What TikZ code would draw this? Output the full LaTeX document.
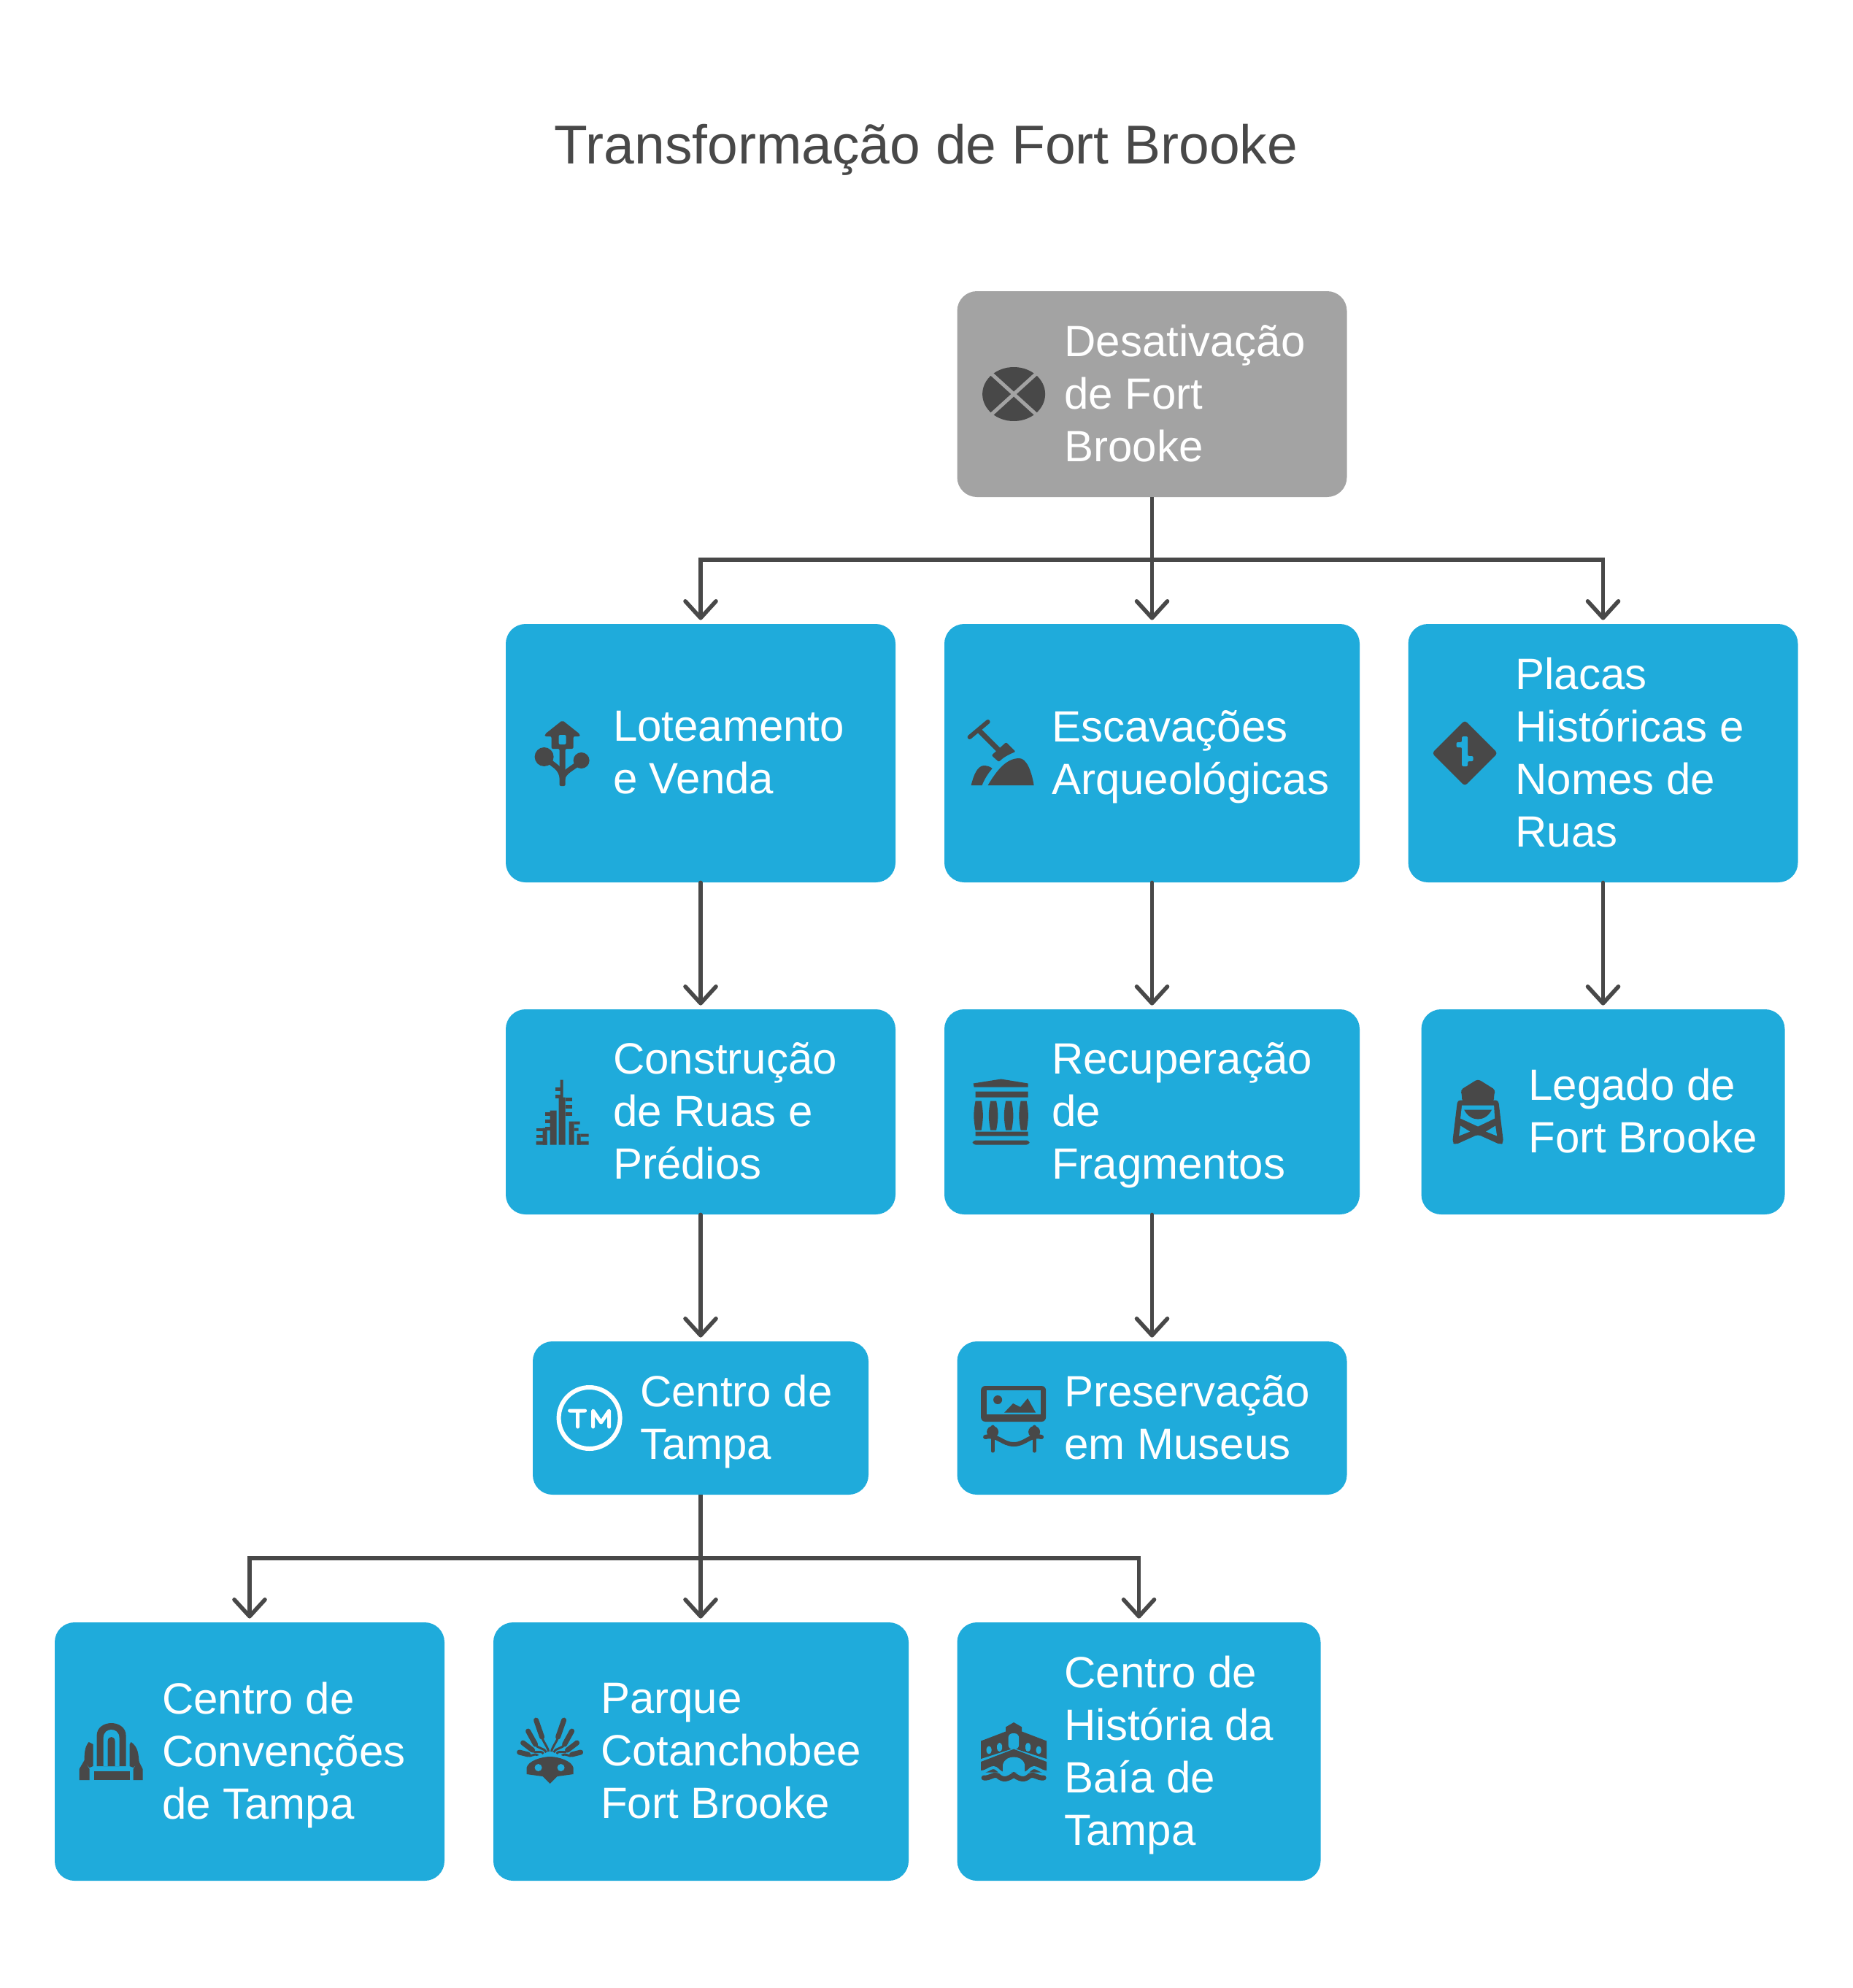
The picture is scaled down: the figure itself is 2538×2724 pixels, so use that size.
\documentclass[tikz,border=0pt]{standalone}
\usepackage{fontspec}
\setmainfont{Liberation Sans}
\usetikzlibrary{arrows.meta,positioning}
\definecolor{tblue}{HTML}{1FABDB}
\definecolor{tgrey}{HTML}{A3A3A3}
\definecolor{tdark}{HTML}{484848}
\newcommand{\lstrut}{\rule[-8.5pt]{0pt}{39.5pt}}

% icons, drawn round (0,0), one unit is one pixel of the picture
\newcommand{\icocross}{
    \fill[tdark] (0,0) ellipse [x radius=43,y radius=37];
    \draw[tgrey,line width=2.5pt] (-33,-30) -- (33,30) (-33,30) -- (33,-30);
}
\newcommand{\icolot}{
    \fill[tdark,rounded corners=1pt] (0,-45) -- (24,-26) -- (24,-23) -- (15,-23) -- (15,-6) -- (4,-6) -- (4,45) -- (-4,45) -- (-4,-6) -- (-15,-6) -- (-15,-23) -- (-24,-23) -- (-24,-26) -- cycle;
    \fill[tblue,rounded corners=1pt] (-5,-25) rectangle (5,-12);
    \fill[tdark] (-25,5) circle (13) (26,10) circle (11);
    \draw[tdark,line width=3.5pt] (-25,5) .. controls (-12,18) and (-2,18) .. (0,36);
    \draw[tdark,line width=3.5pt] (26,10) .. controls (14,22) and (2,24) .. (0,36);
}
\newcommand{\icodig}{
    \draw[tdark,line width=3pt,line cap=round] (-43,-22) -- (-18,-43);
    \draw[tdark,line width=3.5pt] (-31,-32) -- (-3,-4);
    \fill[tdark,rounded corners=1pt] (7,-15) -- (20,-2) .. controls (10,2) and (3,6) .. (-3,12) -- (-13,3) -- cycle;
    \fill[tdark] (-18,44) .. controls (-5,22) and (8,7) .. (25,7) .. controls (35,7) and (42,25) .. (45,44) -- cycle;
    \fill[tdark] (-41,44) .. controls (-37,28) and (-32,18) .. (-24,17) .. controls (-20,17) and (-15,18) .. (-12,21) .. controls (-18,28) and (-23,36) .. (-26,44) -- cycle;
}
\newcommand{\icosign}{
    \fill[tdark,rounded corners=2pt] (-45,0) -- (0,-45) -- (45,0) -- (0,45) -- cycle;
    \fill[tblue,rounded corners=1pt] (-4,-23) -- (4,-23) -- (4,4) -- (11.5,4) -- (11.5,11) -- (4,11) -- (4,18) -- (-4,18) -- (-4,-8) -- (-11.5,-8) -- (-11.5,-15) -- (-4,-15) -- cycle;
}
\newcommand{\icotown}{
    \fill[tdark] (-3,-44) rectangle (1,45) (-5,-20) rectangle (4,45) (-17,-2) rectangle (-8,45) (9,13) rectangle (16,45) (-36,40) rectangle (-21,45) (20,40) rectangle (36,45);
    \fill[tdark] (-27,22) rectangle (-21,45) (20,30) rectangle (25,45);
    \foreach \y in {-34,-24}
        \fill[tdark] (-10,\y) rectangle (-3,\y+5);
    \foreach \y in {-20,-10,0}
        \fill[tdark] (4,\y) rectangle (13,\y+5);
    \foreach \y in {0,10,20}
        \fill[tdark] (-24,\y) rectangle (-17,\y+5);
    \foreach \y in {22,31}
        \fill[tdark] (-36,\y) rectangle (-27,\y+4);
    \fill[tdark] (16,13) rectangle (24,17) (16,22) rectangle (22,26) (25,30) rectangle (36,34);
}
\newcommand{\icopillar}{
    \fill[tdark] (-38,-39) -- (0,-45) -- (37,-39) -- (37,-34) -- (-37,-34) -- cycle;
    \fill[tdark] (-35,-28) rectangle (37,-20) (-35,27) rectangle (37,33);
    \fill[tdark,rounded corners=2pt] (-39,39) rectangle (39,45);
    \foreach \x in {-31,-10.5,10.5,31}
        \fill[tdark] (\x-4,-15) .. controls (\x-7,0) and (\x-7,10) .. (\x-4,25) -- (\x+4,25) .. controls (\x+7,10) and (\x+7,0) .. (\x+4,-15) -- cycle;
}
\newcommand{\icomark}{
    \draw[white,line width=3pt] (0,0) circle (42);
    \draw[white,line width=2.5pt,line cap=round,line join=round] (-27,-10) -- (-6,-10) (-16,-10) -- (-16,12) (5,12) -- (5,-10) -- (16,6) -- (27,-10) -- (27,12);
}
\newcommand{\icogallery}{
    \fill[tdark,rounded corners=3pt] (-45,-44) rectangle (44,5);
    \fill[tblue] (-37,-38) rectangle (37,-5.5);
    \fill[tdark] (-13,-7.5) -- (-1,-20) -- (9,-15) -- (19,-27) -- (30,-7.5) -- cycle;
    \fill[tdark] (-22,-25) circle (6);
    \draw[tdark,line width=2.5pt,line cap=round] (-29,12) -- (-29,45) (28,12) -- (28,45);
    \fill[tdark] (-29,19) circle (8) (28,19) circle (8);
    \draw[tdark,line width=3pt,line cap=round] (-39,26) .. controls (-22,22) and (-16,36) .. (0,36) .. controls (16,36) and (22,22) .. (38,26);
}
\newcommand{\icotower}{
    \fill[tdark,rounded corners=2pt] (0,-45) -- (24,-30) -- (22,-24) -- (22,-14) -- (-22,-14) -- (-22,-24) -- (-24,-30) -- cycle;
    \fill[tdark,rounded corners=2pt] (-28,-16) -- (28,-16) -- (35,42) -- (31,45) -- (0,31) -- (-31,45) -- (-35,42) -- cycle;
    \fill[tblue] (-22,-9) -- (22,-9) -- (23,9) -- (0,20) -- (-24,9) -- cycle;
    \fill[tdark] (-19,-3) -- (19,-3) .. controls (14,7) and (6,10) .. (0,10) .. controls (-6,10) and (-14,7) .. (-19,-3) -- cycle;
    \fill[tblue] (-24,19) -- (-11,27) -- (-26,33) -- cycle (24,19) -- (11,27) -- (26,33) -- cycle;
}
\newcommand{\icohall}{
    \fill[tdark] (-20,20) -- (-20,-22) .. controls (-20,-33) and (-10,-39) .. (0,-39) .. controls (10,-39) and (20,-33) .. (20,-22) -- (20,20) -- cycle;
    \fill[tblue] (-11,20) -- (-11,-18) .. controls (-11,-27) and (-5,-30) .. (0,-30) .. controls (5,-30) and (11,-27) .. (11,-18) -- (11,20) -- cycle;
    \fill[tdark] (-5,20) -- (-5,-14) .. controls (-5,-22) and (5,-22) .. (5,-14) -- (5,20) -- cycle;
    \fill[tdark] (-31,-13) .. controls (-37,-6) and (-37,4) .. (-37,14) -- (-30,22) -- (-25,20) -- (-25,-10) -- cycle;
    \fill[tdark] (27,-13) .. controls (37,-6) and (37,4) .. (38,14) -- (30,22) -- (25,20) -- (25,-10) -- cycle;
    \fill[tdark] (-44,39) -- (-44,24) -- (-37,12) -- (-30,24) -- (-30,39) -- cycle;
    \fill[tdark] (30,39) -- (30,24) -- (37,12) -- (43,24) -- (43,39) -- cycle;
    \fill[tdark] (-24,27) rectangle (25,39);
}
\newcommand{\icomask}{
    \foreach \side in {1,-1}
        \foreach \bx/\by/\mx/\my/\tx/\ty in {-2/0/-11/-20/-19/-43,-5/1/-20/-10/-30/-28,-9/3/-24/-2/-37/-12,-16/6/-30/4/-42/1}{
            \draw[tdark,line width=1.5pt] (\side*\bx,\by) .. controls (\side*\bx*1.4,\by-6) and (\side*\mx*0.9,\my+6) .. (\side*\mx,\my);
            \draw[tdark,line width=3.5pt,line cap=round] (\side*\mx,\my) -- (\side*\tx,\ty);
        }
    \draw[tblue,line width=2pt] (-28,14) .. controls (-14,2) and (14,2) .. (28,14);
    \fill[tdark] (-32,31) -- (-32,22) .. controls (-30,13) and (-12,7) .. (0,7) .. controls (12,7) and (30,13) .. (32,22) -- (32,31) -- (10,34) -- (0,44) -- (-10,34) -- cycle;
    \fill[tblue] (-16,22) circle (5) (15,22) circle (5);
}
\newcommand{\icobridge}{
    \fill[tdark] (0,-40) -- (11,-33.6) -- (11,-27.5) -- (45,-14.5) -- (45,10) -- (0,-4.5) -- (-45,10) -- (-45,-14.5) -- (-11,-27.5) -- (-11,-33.6) -- cycle;
    \fill[tblue,rounded corners=3pt] (-7.5,-3) -- (-7.5,-25) -- (7,-25) -- (7,-3) -- cycle;
    \fill[tblue,rounded corners=2pt] (-37.5,3.4) rectangle (-30.6,-7.5) (-23,0) rectangle (-16,-12) (30.6,3.4) rectangle (37.5,-7.5) (16,0) rectangle (23,-12);
    \fill[tdark] (-45,14) -- (0,-3.4) -- (45,14) -- (45,28.5) -- (-45,28.5) -- cycle;
    \fill[tblue] (-15,28.5) -- (-15,18) .. controls (-13,10) and (-6,7.5) .. (0,7.5) .. controls (6,7.5) and (13,10) .. (15,18) -- (15,28.5) -- cycle;
    \draw[tblue,line width=2pt] (-45,28) .. controls (-35,28) and (-30,17) .. (-22,25) .. controls (-15,33) and (-8,30) .. (0,23) .. controls (8,30) and (15,33) .. (22,25) .. controls (30,17) and (35,28) .. (45,28);
    \draw[tdark,line width=3.5pt,line cap=round] (-41,36) .. controls (-32,37) and (-28,30) .. (-22,33) .. controls (-15,40) and (-8,38) .. (0,32) .. controls (8,38) and (15,40) .. (22,33) .. controls (28,30) and (32,37) .. (41,36);
}

\begin{document}
\begin{tikzpicture}[x=0.5pt,y=-0.5pt]
    \tikzstyle{stepbox}=[fill=tblue,rounded corners=13.5pt,inner sep=0pt]
    \tikzstyle{greybox}=[fill=tgrey,rounded corners=13.5pt,inner sep=0pt]
    \tikzstyle{wbig}=[minimum width=267pt]
    \tikzstyle{wwide}=[minimum width=284.5pt]
    \tikzstyle{wmid}=[minimum width=249pt]
    \tikzstyle{wsmall}=[minimum width=230pt]
    \tikzstyle{word}=[anchor=west,align=left,inner sep=0pt,text=white,font=\fontsize{30}{36}\selectfont,
        execute at begin node=\lstrut,execute at end node=\lstrut]
    \tikzstyle{fwd}=[draw=tdark,line width=2.8pt,line cap=round,shorten >=2.5pt,
        -{Straight Barb[length=11.5pt,width=21pt,round]}]
    \tikzstyle{bus}=[draw=tdark,line width=2.8pt]

    \def\rowa{540}
    \def\rowb{1032}
    \def\rowc{1523.5}
    \def\rowd{1943}
    \def\rowe{2400}
    \def\txt{73.5pt}
    \def\tdrop{-3.5pt}
    \def\ico{39pt}

    \useasboundingbox (0,0) rectangle (2538,2724);

    \node[anchor=center,text=tdark,font=\fontsize{37.5}{45}\selectfont,inner sep=0pt] (title) at (1269,205) {Transformação de Fort Brooke};

    \node[greybox,wbig,minimum height=141pt] (des) at (1578.5,\rowa) {};
    \node[stepbox,wbig,minimum height=177pt] (lot) at (960,\rowb) {};
    \node[stepbox,wwide,minimum height=177pt] (esc) at (1578.5,\rowb) {};
    \node[stepbox,wbig,minimum height=177pt] (pla) at (2196.5,\rowb) {};
    \node[stepbox,wbig,minimum height=140.5pt] (con) at (960,\rowc) {};
    \node[stepbox,wwide,minimum height=140.5pt] (rec) at (1578.5,\rowc) {};
    \node[stepbox,wmid,minimum height=140.5pt] (leg) at (2196.5,\rowc) {};
    \node[stepbox,wsmall,minimum height=105pt] (cen) at (960,\rowd) {};
    \node[stepbox,wbig,minimum height=105pt] (pre) at (1578.5,\rowd) {};
    \node[stepbox,wbig,minimum height=177pt] (cnv) at (342,\rowe) {};
    \node[stepbox,wwide,minimum height=177pt] (par) at (960.5,\rowe) {};
    \node[stepbox,wmid,minimum height=177pt] (his) at (1560.5,\rowe) {};

    \node[word] (dest) at ([xshift=\txt,yshift=\tdrop]des.west) {Desativação\\de Fort\\Brooke};
    \node[word] (lott) at ([xshift=\txt,yshift=\tdrop]lot.west) {Loteamento\\e Venda};
    \node[word] (esct) at ([xshift=\txt,yshift=\tdrop]esc.west) {Escavações\\Arqueológicas};
    \node[word] (plat) at ([xshift=\txt,yshift=\tdrop]pla.west) {Placas\\Históricas e\\Nomes de\\Ruas};
    \node[word] (cont) at ([xshift=\txt,yshift=\tdrop]con.west) {Construção\\de Ruas e\\Prédios};
    \node[word] (rect) at ([xshift=\txt,yshift=\tdrop]rec.west) {Recuperação\\de\\Fragmentos};
    \node[word] (legt) at ([xshift=\txt,yshift=\tdrop]leg.west) {Legado de\\Fort Brooke};
    \node[word] (cent) at ([xshift=\txt,yshift=\tdrop]cen.west) {Centro de\\Tampa};
    \node[word] (pret) at ([xshift=\txt,yshift=\tdrop]pre.west) {Preservação\\em Museus};
    \node[word] (cnvt) at ([xshift=\txt,yshift=\tdrop]cnv.west) {Centro de\\Convenções\\de Tampa};
    \node[word] (part) at ([xshift=\txt,yshift=\tdrop]par.west) {Parque\\Cotanchobee\\Fort Brooke};
    \node[word] (hist) at ([xshift=\txt,yshift=\tdrop]his.west) {Centro de\\História da\\Baía de\\Tampa};

    \begin{scope}[shift={([xshift=\ico]des.west)}] \icocross \end{scope}
    \begin{scope}[shift={([xshift=\ico]lot.west)}] \icolot \end{scope}
    \begin{scope}[shift={([xshift=\ico]esc.west)}] \icodig \end{scope}
    \begin{scope}[shift={([xshift=\ico]pla.west)}] \icosign \end{scope}
    \begin{scope}[shift={([xshift=\ico]con.west)}] \icotown \end{scope}
    \begin{scope}[shift={([xshift=\ico]rec.west)}] \icopillar \end{scope}
    \begin{scope}[shift={([xshift=\ico]leg.west)}] \icotower \end{scope}
    \begin{scope}[shift={([xshift=\ico]cen.west)}] \icomark \end{scope}
    \begin{scope}[shift={([xshift=\ico]pre.west)}] \icogallery \end{scope}
    \begin{scope}[shift={([xshift=\ico]cnv.west)}] \icohall \end{scope}
    \begin{scope}[shift={([xshift=\ico]par.west)}] \icomask \end{scope}
    \begin{scope}[shift={([xshift=\ico]his.west)}] \icobridge \end{scope}

    \coordinate (busa) at (1578.5,767);
    \coordinate (busb) at (960,2135);

    \draw [bus] (des.south) -- (busa);
    \draw [fwd] (busa) -| (lot.north);
    \draw [fwd] (busa) -- (esc.north);
    \draw [fwd] (busa) -| (pla.north);

    \draw [fwd] (lot.south) -- (con.north);
    \draw [fwd] (esc.south) -- (rec.north);
    \draw [fwd] (pla.south) -- (leg.north);
    \draw [fwd] (con.south) -- (cen.north);
    \draw [fwd] (rec.south) -- (pre.north);

    \draw [bus] (cen.south) -- (busb);
    \draw [fwd] (busb) -| (cnv.north);
    \draw [fwd] (busb) -- (busb |- par.north);
    \draw [fwd] (busb) -| (his.north);
\end{tikzpicture}
\end{document}
